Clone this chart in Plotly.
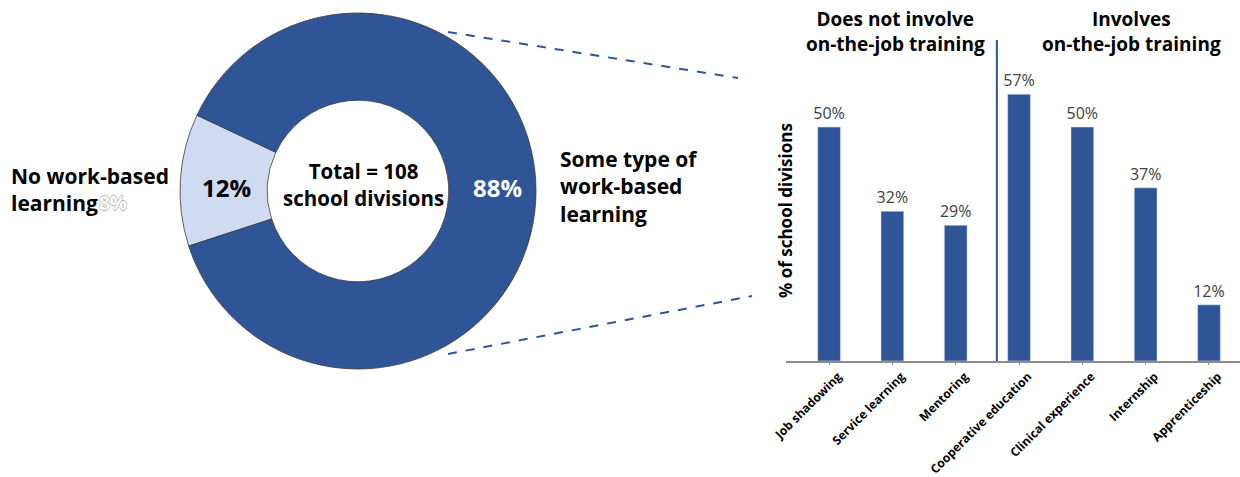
import plotly.graph_objects as go

# Donut: share of school divisions offering any work-based learning
pie_labels = ["No work-based learning", "Some type of work-based learning"]
pie_values = [12, 88]
pie_colors = ["#CFDBF0", "#2F5597"]
pie_text_colors = ["#000000", "#FFFFFF"]

# Bars: type of work-based learning offered (% of school divisions)
bar_categories = ["Job shadowing", "Service learning", "Mentoring",
                  "Cooperative education", "Clinical experience",
                  "Internship", "Apprenticeship"]
bar_values = [50, 32, 29, 57, 50, 37, 12]
bar_labels = ["50%", "32%", "29%", "57%", "50%", "37%", "12%"]

group_titles = ["Does not involve<br>on-the-job training",
                "Involves<br>on-the-job training"]

BLUE = "#2F5597"
FONT = "Open Sans"
W, H = 1240, 477


def px(x):
    return x / W


def py(y):
    return 1 - y / H


fig = go.Figure()

fig.add_trace(go.Pie(
    labels=pie_labels,
    values=pie_values,
    hole=0.51,
    sort=False,
    direction="clockwise",
    rotation=-108,
    marker=dict(colors=pie_colors, line=dict(color="#3A3A3A", width=0.8)),
    textinfo="none",
    domain=dict(x=[px(180), px(536)], y=[py(369), py(13)]),
    showlegend=False,
    hoverinfo="skip",
))

fig.add_trace(go.Bar(
    x=bar_categories,
    y=bar_values,
    text=bar_labels,
    textposition="outside",
    constraintext="none",
    cliponaxis=False,
    textfont=dict(family=FONT, size=16, color="#404040"),
    marker=dict(color=BLUE),
    width=0.36,
    xaxis="x", yaxis="y",
    showlegend=False,
    hoverinfo="skip",
))

fig.update_layout(
    width=W, height=H,
    margin=dict(l=0, r=0, t=0, b=0),
    paper_bgcolor="white",
    plot_bgcolor="white",
    font=dict(family=FONT, color="#000000"),
    xaxis=dict(
        domain=[px(786), 1.0],
        range=[-0.68, 6.49],
        automargin=False,
        tickangle=-45,
        tickfont=dict(family=FONT, size=12.1, color="#000000", weight="bold"),
        ticklabelshift=9,
        showline=True, linecolor="#8C8C8C", linewidth=1.5,
        ticks="outside", ticklen=2, tickcolor="#8C8C8C",
        showgrid=False, zeroline=False,
    ),
    yaxis=dict(
        domain=[py(361), py(361) + 60 * 4.68 / H],
        range=[0, 60],
        automargin=False,
        showticklabels=False, showgrid=False, zeroline=False,
        showline=False, ticks="",
    ),
)

# Dashed connector lines from the donut to the bar panel
for (x0, y0, x1, y1) in [(448, 32, 738, 78), (448, 354, 752, 296)]:
    fig.add_shape(type="line", xref="paper", yref="paper",
                  x0=px(x0), y0=py(y0), x1=px(x1), y1=py(y1),
                  line=dict(color=BLUE, width=2, dash="dash"))

# Divider between the two groups of bars
fig.add_shape(type="line", xref="x", yref="paper",
              x0=2.65, x1=2.65, y0=py(361), y1=py(40),
              line=dict(color=BLUE, width=2))

# Slice percentages, positioned inside the ring
slice_pos = [(226, 187), (497, 187)]
annotations = [
    dict(x=px(x), y=py(y), text=f"<b>{v}%</b>",
         font=dict(size=24, color=c), xanchor="center", yanchor="middle")
    for (x, y), v, c in zip(slice_pos, pie_values, pie_text_colors)
]
annotations += [
    dict(x=px(364), y=py(184), text="<b>Total = 108<br>school divisions</b>",
         font=dict(size=20.5), xanchor="center", yanchor="middle"),
    dict(x=px(9), y=py(189),
         text="<b>No work-based<br>learning</b>",
         font=dict(size=21), xanchor="left", yanchor="middle", align="left"),
    # faint outlined leftover label beside "learning"
    dict(x=px(97), y=py(203), text="<b>8%</b>",
         font=dict(size=19, color="#FFFFFF",
                   shadow="-0.7px 0 0 #B8B8B8, 0.7px 0 0 #B8B8B8, "
                          "0 -0.7px 0 #B8B8B8, 0 0.7px 0 #B8B8B8"),
         xanchor="left", yanchor="middle"),
    dict(x=px(558), y=py(186),
         text="<b>Some type of<br>work-based<br>learning</b>",
         font=dict(size=21), xanchor="left", yanchor="middle", align="left"),
    dict(x=px(895), y=py(31), text="<b>" + group_titles[0] + "</b>",
         font=dict(size=19), xanchor="center", yanchor="middle"),
    dict(x=px(1131), y=py(31), text="<b>" + group_titles[1] + "</b>",
         font=dict(size=19), xanchor="center", yanchor="middle"),
    dict(x=px(785), y=py(211), text="<b>% of school divisions</b>",
         textangle=-90, font=dict(size=17), xanchor="center", yanchor="middle"),
]
for a in annotations:
    a.update(xref="paper", yref="paper", showarrow=False)
    a["font"] = dict(family=FONT, **{"color": "#000000", **a["font"]})
fig.update_layout(annotations=annotations)

fig.write_html("out.html")
